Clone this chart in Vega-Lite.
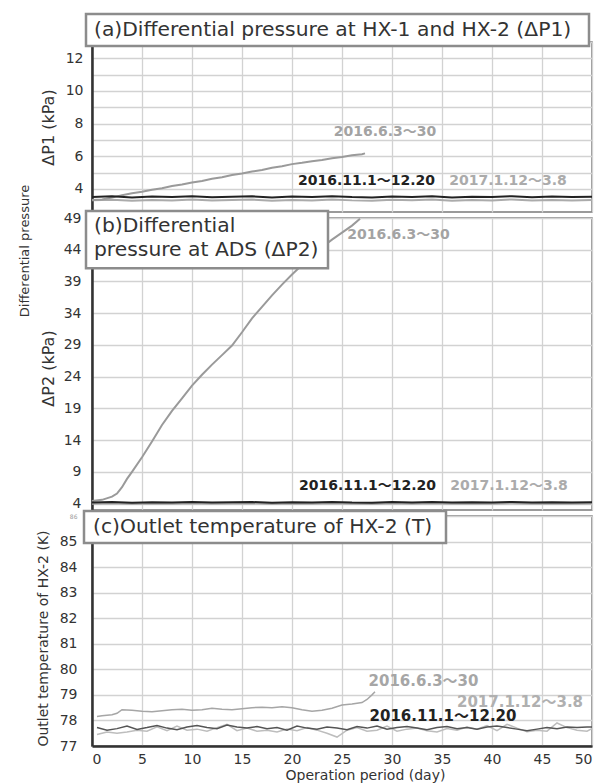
{
  "$schema": "https://vega.github.io/schema/vega-lite/v6.json",
  "padding": {"left": 18, "top": 12, "right": 7, "bottom": 1},
  "bounds": "flush",
  "spacing": 6,
  "resolve": {"scale": {"color": "independent"}},
  "config": {
    "font": "DejaVu Sans, Noto Sans CJK JP",
    "view": {"stroke": "#7a7a7a", "strokeWidth": 1.5},
    "axis": {
      "gridColor": "#d2d2d2",
      "gridWidth": 1.3,
      "labelColor": "#333333",
      "titleColor": "#333333",
      "labelFontSize": 14,
      "titleFontWeight": "normal",
      "domainColor": "#333333",
      "domainWidth": 2.5,
      "ticks": false
    },
    "text": {"font": "DejaVu Sans, Noto Sans CJK JP"}
  },
  "datasets": {
    "panelA": [
      {"period": "2017.1.12〜3.8", "day": 0, "value": 3.3},
      {"period": "2017.1.12〜3.8", "day": 2, "value": 3.34},
      {"period": "2017.1.12〜3.8", "day": 4, "value": 3.28},
      {"period": "2017.1.12〜3.8", "day": 6, "value": 3.33},
      {"period": "2017.1.12〜3.8", "day": 8, "value": 3.3},
      {"period": "2017.1.12〜3.8", "day": 10, "value": 3.36},
      {"period": "2017.1.12〜3.8", "day": 12, "value": 3.29},
      {"period": "2017.1.12〜3.8", "day": 14, "value": 3.32},
      {"period": "2017.1.12〜3.8", "day": 16, "value": 3.35},
      {"period": "2017.1.12〜3.8", "day": 18, "value": 3.27},
      {"period": "2017.1.12〜3.8", "day": 20, "value": 3.33},
      {"period": "2017.1.12〜3.8", "day": 22, "value": 3.3},
      {"period": "2017.1.12〜3.8", "day": 24, "value": 3.36},
      {"period": "2017.1.12〜3.8", "day": 26, "value": 3.3},
      {"period": "2017.1.12〜3.8", "day": 28, "value": 3.28},
      {"period": "2017.1.12〜3.8", "day": 30, "value": 3.34},
      {"period": "2017.1.12〜3.8", "day": 32, "value": 3.31},
      {"period": "2017.1.12〜3.8", "day": 34, "value": 3.35},
      {"period": "2017.1.12〜3.8", "day": 36, "value": 3.28},
      {"period": "2017.1.12〜3.8", "day": 38, "value": 3.32},
      {"period": "2017.1.12〜3.8", "day": 40, "value": 3.3},
      {"period": "2017.1.12〜3.8", "day": 42, "value": 3.36},
      {"period": "2017.1.12〜3.8", "day": 44, "value": 3.29},
      {"period": "2017.1.12〜3.8", "day": 46, "value": 3.33},
      {"period": "2017.1.12〜3.8", "day": 48, "value": 3.3},
      {"period": "2017.1.12〜3.8", "day": 50, "value": 3.32},
      {"period": "2016.6.3〜30", "day": 0, "value": 3.32},
      {"period": "2016.6.3〜30", "day": 1, "value": 3.36},
      {"period": "2016.6.3〜30", "day": 2, "value": 3.47},
      {"period": "2016.6.3〜30", "day": 3, "value": 3.62},
      {"period": "2016.6.3〜30", "day": 4, "value": 3.73},
      {"period": "2016.6.3〜30", "day": 5, "value": 3.83},
      {"period": "2016.6.3〜30", "day": 6, "value": 3.95},
      {"period": "2016.6.3〜30", "day": 7, "value": 4.04},
      {"period": "2016.6.3〜30", "day": 8, "value": 4.18},
      {"period": "2016.6.3〜30", "day": 9, "value": 4.27},
      {"period": "2016.6.3〜30", "day": 10, "value": 4.4},
      {"period": "2016.6.3〜30", "day": 11, "value": 4.49},
      {"period": "2016.6.3〜30", "day": 12, "value": 4.62},
      {"period": "2016.6.3〜30", "day": 13, "value": 4.72},
      {"period": "2016.6.3〜30", "day": 14, "value": 4.85},
      {"period": "2016.6.3〜30", "day": 15, "value": 4.94},
      {"period": "2016.6.3〜30", "day": 16, "value": 5.07},
      {"period": "2016.6.3〜30", "day": 17, "value": 5.16},
      {"period": "2016.6.3〜30", "day": 18, "value": 5.3},
      {"period": "2016.6.3〜30", "day": 19, "value": 5.39},
      {"period": "2016.6.3〜30", "day": 20, "value": 5.52},
      {"period": "2016.6.3〜30", "day": 21, "value": 5.6},
      {"period": "2016.6.3〜30", "day": 22, "value": 5.7},
      {"period": "2016.6.3〜30", "day": 23, "value": 5.77},
      {"period": "2016.6.3〜30", "day": 24, "value": 5.88},
      {"period": "2016.6.3〜30", "day": 25, "value": 5.95},
      {"period": "2016.6.3〜30", "day": 26, "value": 6.06},
      {"period": "2016.6.3〜30", "day": 27, "value": 6.13},
      {"period": "2016.6.3〜30", "day": 27.3, "value": 6.18},
      {"period": "2016.11.1〜12.20", "day": 0, "value": 3.5},
      {"period": "2016.11.1〜12.20", "day": 2, "value": 3.55},
      {"period": "2016.11.1〜12.20", "day": 4, "value": 3.48},
      {"period": "2016.11.1〜12.20", "day": 6, "value": 3.53},
      {"period": "2016.11.1〜12.20", "day": 8, "value": 3.5},
      {"period": "2016.11.1〜12.20", "day": 10, "value": 3.56},
      {"period": "2016.11.1〜12.20", "day": 12, "value": 3.49},
      {"period": "2016.11.1〜12.20", "day": 14, "value": 3.52},
      {"period": "2016.11.1〜12.20", "day": 16, "value": 3.55},
      {"period": "2016.11.1〜12.20", "day": 18, "value": 3.47},
      {"period": "2016.11.1〜12.20", "day": 20, "value": 3.53},
      {"period": "2016.11.1〜12.20", "day": 22, "value": 3.5},
      {"period": "2016.11.1〜12.20", "day": 24, "value": 3.56},
      {"period": "2016.11.1〜12.20", "day": 26, "value": 3.5},
      {"period": "2016.11.1〜12.20", "day": 28, "value": 3.48},
      {"period": "2016.11.1〜12.20", "day": 30, "value": 3.54},
      {"period": "2016.11.1〜12.20", "day": 32, "value": 3.51},
      {"period": "2016.11.1〜12.20", "day": 34, "value": 3.55},
      {"period": "2016.11.1〜12.20", "day": 36, "value": 3.48},
      {"period": "2016.11.1〜12.20", "day": 38, "value": 3.52},
      {"period": "2016.11.1〜12.20", "day": 40, "value": 3.5},
      {"period": "2016.11.1〜12.20", "day": 42, "value": 3.56},
      {"period": "2016.11.1〜12.20", "day": 44, "value": 3.49},
      {"period": "2016.11.1〜12.20", "day": 46, "value": 3.53},
      {"period": "2016.11.1〜12.20", "day": 48, "value": 3.5},
      {"period": "2016.11.1〜12.20", "day": 50, "value": 3.52}
    ],
    "panelB": [
      {"period": "2017.1.12〜3.8", "day": 0, "value": 4.0},
      {"period": "2017.1.12〜3.8", "day": 2, "value": 4.06},
      {"period": "2017.1.12〜3.8", "day": 4, "value": 3.96},
      {"period": "2017.1.12〜3.8", "day": 6, "value": 4.04},
      {"period": "2017.1.12〜3.8", "day": 8, "value": 3.98},
      {"period": "2017.1.12〜3.8", "day": 10, "value": 4.07},
      {"period": "2017.1.12〜3.8", "day": 12, "value": 3.97},
      {"period": "2017.1.12〜3.8", "day": 14, "value": 4.02},
      {"period": "2017.1.12〜3.8", "day": 16, "value": 4.06},
      {"period": "2017.1.12〜3.8", "day": 18, "value": 3.95},
      {"period": "2017.1.12〜3.8", "day": 20, "value": 4.03},
      {"period": "2017.1.12〜3.8", "day": 22, "value": 3.99},
      {"period": "2017.1.12〜3.8", "day": 24, "value": 4.07},
      {"period": "2017.1.12〜3.8", "day": 26, "value": 3.98},
      {"period": "2017.1.12〜3.8", "day": 28, "value": 3.96},
      {"period": "2017.1.12〜3.8", "day": 30, "value": 4.05},
      {"period": "2017.1.12〜3.8", "day": 32, "value": 4.0},
      {"period": "2017.1.12〜3.8", "day": 34, "value": 4.06},
      {"period": "2017.1.12〜3.8", "day": 36, "value": 3.97},
      {"period": "2017.1.12〜3.8", "day": 38, "value": 4.02},
      {"period": "2017.1.12〜3.8", "day": 40, "value": 3.99},
      {"period": "2017.1.12〜3.8", "day": 42, "value": 4.07},
      {"period": "2017.1.12〜3.8", "day": 44, "value": 3.97},
      {"period": "2017.1.12〜3.8", "day": 46, "value": 4.03},
      {"period": "2017.1.12〜3.8", "day": 48, "value": 3.99},
      {"period": "2017.1.12〜3.8", "day": 50, "value": 4.02},
      {"period": "2016.6.3〜30", "day": 0, "value": 4.4},
      {"period": "2016.6.3〜30", "day": 1, "value": 4.6},
      {"period": "2016.6.3〜30", "day": 2, "value": 5.1},
      {"period": "2016.6.3〜30", "day": 2.5, "value": 5.6},
      {"period": "2016.6.3〜30", "day": 3, "value": 6.6},
      {"period": "2016.6.3〜30", "day": 3.5, "value": 7.9},
      {"period": "2016.6.3〜30", "day": 4, "value": 9.0},
      {"period": "2016.6.3〜30", "day": 5, "value": 11.3},
      {"period": "2016.6.3〜30", "day": 6, "value": 13.8},
      {"period": "2016.6.3〜30", "day": 7, "value": 16.4},
      {"period": "2016.6.3〜30", "day": 8, "value": 18.6},
      {"period": "2016.6.3〜30", "day": 9, "value": 20.6},
      {"period": "2016.6.3〜30", "day": 10, "value": 22.6},
      {"period": "2016.6.3〜30", "day": 11, "value": 24.3},
      {"period": "2016.6.3〜30", "day": 12, "value": 25.9},
      {"period": "2016.6.3〜30", "day": 13, "value": 27.4},
      {"period": "2016.6.3〜30", "day": 14, "value": 28.9},
      {"period": "2016.6.3〜30", "day": 15, "value": 31.0},
      {"period": "2016.6.3〜30", "day": 16, "value": 33.2},
      {"period": "2016.6.3〜30", "day": 17, "value": 35.0},
      {"period": "2016.6.3〜30", "day": 18, "value": 36.8},
      {"period": "2016.6.3〜30", "day": 19, "value": 38.5},
      {"period": "2016.6.3〜30", "day": 20, "value": 40.1},
      {"period": "2016.6.3〜30", "day": 21, "value": 41.6},
      {"period": "2016.6.3〜30", "day": 22, "value": 43.0},
      {"period": "2016.6.3〜30", "day": 23, "value": 44.4},
      {"period": "2016.6.3〜30", "day": 24, "value": 45.6},
      {"period": "2016.6.3〜30", "day": 25, "value": 46.7},
      {"period": "2016.6.3〜30", "day": 26, "value": 47.8},
      {"period": "2016.6.3〜30", "day": 26.8, "value": 48.9},
      {"period": "2016.11.1〜12.20", "day": 0, "value": 4.2},
      {"period": "2016.11.1〜12.20", "day": 2, "value": 4.26},
      {"period": "2016.11.1〜12.20", "day": 4, "value": 4.16},
      {"period": "2016.11.1〜12.20", "day": 6, "value": 4.24},
      {"period": "2016.11.1〜12.20", "day": 8, "value": 4.18},
      {"period": "2016.11.1〜12.20", "day": 10, "value": 4.27},
      {"period": "2016.11.1〜12.20", "day": 12, "value": 4.17},
      {"period": "2016.11.1〜12.20", "day": 14, "value": 4.22},
      {"period": "2016.11.1〜12.20", "day": 16, "value": 4.26},
      {"period": "2016.11.1〜12.20", "day": 18, "value": 4.15},
      {"period": "2016.11.1〜12.20", "day": 20, "value": 4.23},
      {"period": "2016.11.1〜12.20", "day": 22, "value": 4.19},
      {"period": "2016.11.1〜12.20", "day": 24, "value": 4.27},
      {"period": "2016.11.1〜12.20", "day": 26, "value": 4.18},
      {"period": "2016.11.1〜12.20", "day": 28, "value": 4.16},
      {"period": "2016.11.1〜12.20", "day": 30, "value": 4.25},
      {"period": "2016.11.1〜12.20", "day": 32, "value": 4.2},
      {"period": "2016.11.1〜12.20", "day": 34, "value": 4.26},
      {"period": "2016.11.1〜12.20", "day": 36, "value": 4.17},
      {"period": "2016.11.1〜12.20", "day": 38, "value": 4.22},
      {"period": "2016.11.1〜12.20", "day": 40, "value": 4.19},
      {"period": "2016.11.1〜12.20", "day": 42, "value": 4.27},
      {"period": "2016.11.1〜12.20", "day": 44, "value": 4.17},
      {"period": "2016.11.1〜12.20", "day": 46, "value": 4.23},
      {"period": "2016.11.1〜12.20", "day": 48, "value": 4.19},
      {"period": "2016.11.1〜12.20", "day": 50, "value": 4.22}
    ],
    "panelC": [
      {"period": "2017.1.12〜3.8", "day": 0.5, "value": 77.45},
      {"period": "2017.1.12〜3.8", "day": 1.5, "value": 77.55},
      {"period": "2017.1.12〜3.8", "day": 2.5, "value": 77.5},
      {"period": "2017.1.12〜3.8", "day": 3.5, "value": 77.55},
      {"period": "2017.1.12〜3.8", "day": 4.5, "value": 77.62},
      {"period": "2017.1.12〜3.8", "day": 5.5, "value": 77.58},
      {"period": "2017.1.12〜3.8", "day": 6.5, "value": 77.75},
      {"period": "2017.1.12〜3.8", "day": 7.5, "value": 77.6},
      {"period": "2017.1.12〜3.8", "day": 8.5, "value": 77.78},
      {"period": "2017.1.12〜3.8", "day": 9.5, "value": 77.62},
      {"period": "2017.1.12〜3.8", "day": 10.5, "value": 77.66},
      {"period": "2017.1.12〜3.8", "day": 11.5, "value": 77.58},
      {"period": "2017.1.12〜3.8", "day": 12.5, "value": 77.72},
      {"period": "2017.1.12〜3.8", "day": 13.5, "value": 77.85},
      {"period": "2017.1.12〜3.8", "day": 14.5, "value": 77.6},
      {"period": "2017.1.12〜3.8", "day": 15.5, "value": 77.7},
      {"period": "2017.1.12〜3.8", "day": 16.5, "value": 77.58},
      {"period": "2017.1.12〜3.8", "day": 17.5, "value": 77.62},
      {"period": "2017.1.12〜3.8", "day": 18.5, "value": 77.55},
      {"period": "2017.1.12〜3.8", "day": 19.5, "value": 77.66},
      {"period": "2017.1.12〜3.8", "day": 20.5, "value": 77.6},
      {"period": "2017.1.12〜3.8", "day": 21.5, "value": 77.72},
      {"period": "2017.1.12〜3.8", "day": 22.5, "value": 77.62},
      {"period": "2017.1.12〜3.8", "day": 23.5, "value": 77.5},
      {"period": "2017.1.12〜3.8", "day": 24.5, "value": 77.35},
      {"period": "2017.1.12〜3.8", "day": 25.5, "value": 77.62},
      {"period": "2017.1.12〜3.8", "day": 26.5, "value": 77.72},
      {"period": "2017.1.12〜3.8", "day": 27.5, "value": 77.58},
      {"period": "2017.1.12〜3.8", "day": 28.5, "value": 77.62},
      {"period": "2017.1.12〜3.8", "day": 29.5, "value": 77.78},
      {"period": "2017.1.12〜3.8", "day": 30.5, "value": 77.58},
      {"period": "2017.1.12〜3.8", "day": 31.5, "value": 77.66},
      {"period": "2017.1.12〜3.8", "day": 32.5, "value": 77.7},
      {"period": "2017.1.12〜3.8", "day": 33.5, "value": 77.6},
      {"period": "2017.1.12〜3.8", "day": 34.5, "value": 77.55},
      {"period": "2017.1.12〜3.8", "day": 35.5, "value": 77.68},
      {"period": "2017.1.12〜3.8", "day": 36.5, "value": 77.62},
      {"period": "2017.1.12〜3.8", "day": 37.5, "value": 77.74},
      {"period": "2017.1.12〜3.8", "day": 38.5, "value": 77.66},
      {"period": "2017.1.12〜3.8", "day": 39.5, "value": 77.8},
      {"period": "2017.1.12〜3.8", "day": 40.5, "value": 77.6},
      {"period": "2017.1.12〜3.8", "day": 41.5, "value": 77.85},
      {"period": "2017.1.12〜3.8", "day": 42.5, "value": 77.7},
      {"period": "2017.1.12〜3.8", "day": 43.5, "value": 77.56},
      {"period": "2017.1.12〜3.8", "day": 44.5, "value": 77.62},
      {"period": "2017.1.12〜3.8", "day": 45.5, "value": 77.58},
      {"period": "2017.1.12〜3.8", "day": 46.5, "value": 77.9},
      {"period": "2017.1.12〜3.8", "day": 47.5, "value": 77.72},
      {"period": "2017.1.12〜3.8", "day": 48.5, "value": 77.62},
      {"period": "2017.1.12〜3.8", "day": 49.5, "value": 77.58},
      {"period": "2017.1.12〜3.8", "day": 50, "value": 77.68},
      {"period": "2016.6.3〜30", "day": 0.5, "value": 78.15},
      {"period": "2016.6.3〜30", "day": 1, "value": 78.18},
      {"period": "2016.6.3〜30", "day": 2, "value": 78.22},
      {"period": "2016.6.3〜30", "day": 2.5, "value": 78.28},
      {"period": "2016.6.3〜30", "day": 3, "value": 78.42},
      {"period": "2016.6.3〜30", "day": 4, "value": 78.4},
      {"period": "2016.6.3〜30", "day": 5, "value": 78.36},
      {"period": "2016.6.3〜30", "day": 6, "value": 78.34},
      {"period": "2016.6.3〜30", "day": 7, "value": 78.38},
      {"period": "2016.6.3〜30", "day": 8, "value": 78.42},
      {"period": "2016.6.3〜30", "day": 9, "value": 78.44},
      {"period": "2016.6.3〜30", "day": 10, "value": 78.4},
      {"period": "2016.6.3〜30", "day": 11, "value": 78.42},
      {"period": "2016.6.3〜30", "day": 12, "value": 78.48},
      {"period": "2016.6.3〜30", "day": 13, "value": 78.44},
      {"period": "2016.6.3〜30", "day": 14, "value": 78.42},
      {"period": "2016.6.3〜30", "day": 15, "value": 78.46},
      {"period": "2016.6.3〜30", "day": 16, "value": 78.5},
      {"period": "2016.6.3〜30", "day": 17, "value": 78.52},
      {"period": "2016.6.3〜30", "day": 18, "value": 78.5},
      {"period": "2016.6.3〜30", "day": 19, "value": 78.54},
      {"period": "2016.6.3〜30", "day": 20, "value": 78.5},
      {"period": "2016.6.3〜30", "day": 21, "value": 78.42},
      {"period": "2016.6.3〜30", "day": 22, "value": 78.36},
      {"period": "2016.6.3〜30", "day": 23, "value": 78.4},
      {"period": "2016.6.3〜30", "day": 24, "value": 78.48},
      {"period": "2016.6.3〜30", "day": 25, "value": 78.6},
      {"period": "2016.6.3〜30", "day": 26, "value": 78.64},
      {"period": "2016.6.3〜30", "day": 27, "value": 78.7},
      {"period": "2016.6.3〜30", "day": 27.5, "value": 78.82},
      {"period": "2016.6.3〜30", "day": 28, "value": 79.0},
      {"period": "2016.6.3〜30", "day": 28.3, "value": 79.12},
      {"period": "2016.11.1〜12.20", "day": 0.5, "value": 77.72},
      {"period": "2016.11.1〜12.20", "day": 1.5, "value": 77.62},
      {"period": "2016.11.1〜12.20", "day": 2.5, "value": 77.68},
      {"period": "2016.11.1〜12.20", "day": 3.5, "value": 77.78},
      {"period": "2016.11.1〜12.20", "day": 4.5, "value": 77.65},
      {"period": "2016.11.1〜12.20", "day": 5.5, "value": 77.72},
      {"period": "2016.11.1〜12.20", "day": 6.5, "value": 77.8},
      {"period": "2016.11.1〜12.20", "day": 7.5, "value": 77.7},
      {"period": "2016.11.1〜12.20", "day": 8.5, "value": 77.64},
      {"period": "2016.11.1〜12.20", "day": 9.5, "value": 77.74},
      {"period": "2016.11.1〜12.20", "day": 10.5, "value": 77.8},
      {"period": "2016.11.1〜12.20", "day": 11.5, "value": 77.72},
      {"period": "2016.11.1〜12.20", "day": 12.5, "value": 77.68},
      {"period": "2016.11.1〜12.20", "day": 13.5, "value": 77.82},
      {"period": "2016.11.1〜12.20", "day": 14.5, "value": 77.74},
      {"period": "2016.11.1〜12.20", "day": 15.5, "value": 77.7},
      {"period": "2016.11.1〜12.20", "day": 16.5, "value": 77.76},
      {"period": "2016.11.1〜12.20", "day": 17.5, "value": 77.68},
      {"period": "2016.11.1〜12.20", "day": 18.5, "value": 77.72},
      {"period": "2016.11.1〜12.20", "day": 19.5, "value": 77.62},
      {"period": "2016.11.1〜12.20", "day": 20.5, "value": 77.78},
      {"period": "2016.11.1〜12.20", "day": 21.5, "value": 77.7},
      {"period": "2016.11.1〜12.20", "day": 22.5, "value": 77.66},
      {"period": "2016.11.1〜12.20", "day": 23.5, "value": 77.74},
      {"period": "2016.11.1〜12.20", "day": 24.5, "value": 77.7},
      {"period": "2016.11.1〜12.20", "day": 25.5, "value": 77.64},
      {"period": "2016.11.1〜12.20", "day": 26.5, "value": 77.76},
      {"period": "2016.11.1〜12.20", "day": 27.5, "value": 77.7},
      {"period": "2016.11.1〜12.20", "day": 28.5, "value": 77.78},
      {"period": "2016.11.1〜12.20", "day": 29.5, "value": 77.66},
      {"period": "2016.11.1〜12.20", "day": 30.5, "value": 77.72},
      {"period": "2016.11.1〜12.20", "day": 31.5, "value": 77.76},
      {"period": "2016.11.1〜12.20", "day": 32.5, "value": 77.7},
      {"period": "2016.11.1〜12.20", "day": 33.5, "value": 77.64},
      {"period": "2016.11.1〜12.20", "day": 34.5, "value": 77.72},
      {"period": "2016.11.1〜12.20", "day": 35.5, "value": 77.76},
      {"period": "2016.11.1〜12.20", "day": 36.5, "value": 77.68},
      {"period": "2016.11.1〜12.20", "day": 37.5, "value": 77.72},
      {"period": "2016.11.1〜12.20", "day": 38.5, "value": 77.66},
      {"period": "2016.11.1〜12.20", "day": 39.5, "value": 77.74},
      {"period": "2016.11.1〜12.20", "day": 40.5, "value": 77.78},
      {"period": "2016.11.1〜12.20", "day": 41.5, "value": 77.72},
      {"period": "2016.11.1〜12.20", "day": 42.5, "value": 77.66},
      {"period": "2016.11.1〜12.20", "day": 43.5, "value": 77.6},
      {"period": "2016.11.1〜12.20", "day": 44.5, "value": 77.66},
      {"period": "2016.11.1〜12.20", "day": 45.5, "value": 77.72},
      {"period": "2016.11.1〜12.20", "day": 46.5, "value": 77.68},
      {"period": "2016.11.1〜12.20", "day": 47.5, "value": 77.74},
      {"period": "2016.11.1〜12.20", "day": 48.5, "value": 77.72},
      {"period": "2016.11.1〜12.20", "day": 49.5, "value": 77.74},
      {"period": "2016.11.1〜12.20", "day": 50, "value": 77.74}
    ]
  },
  "vconcat": [
    {
      "width": 500,
      "height": 170,
      "data": {"name": "panelA"},
      "layer": [
        {
          "mark": {"type": "line", "strokeWidth": 2},
          "encoding": {
            "x": {"field": "day", "type": "quantitative", "scale": {"domain": [0, 50], "nice": false},
                  "axis": {"values": [0, 5, 10, 15, 20, 25, 30, 35, 40, 45, 50], "tickCount": 20, "labels": false, "domain": false, "title": null}},
            "y": {"field": "value", "type": "quantitative", "scale": {"domain": [2.588, 13], "nice": false, "zero": false},
                  "axis": {"values": [4, 5, 6, 7, 8, 9, 10, 11, 12, 13], "tickCount": 20, "format": "d",
                           "labelExpr": "datum.value % 2 == 0 ? datum.label : ''",
                           "labelOverlap": false, "labelPadding": 9, "title": "ΔP1  (kPa)", "titleFontSize": 16, "titleAngle": 270,
                           "titleAlign": "center", "titleBaseline": "middle", "titleX": -44, "titleY": 85}},
            "color": {"field": "period", "type": "nominal", "legend": null,
                      "scale": {"domain": ["2016.6.3〜30", "2016.11.1〜12.20", "2017.1.12〜3.8"], "range": ["#9a9a9a", "#222222", "#ababab"]}}
          }
        },
        {
          "data": {"values": [{}]},
          "mark": {"type": "rect", "fill": "white", "stroke": "#8c8c8c", "strokeWidth": 2.5},
          "encoding": {"x": {"datum": -0.6}, "x2": {"datum": 49.7}, "y": {"datum": 14.71}, "y2": {"datum": 12.76}}
        },
        {
          "data": {"values": [{}]},
          "mark": {"type": "text", "text": "(a)Differential pressure at HX-1 and HX-2 (ΔP1)", "align": "left", "baseline": "middle", "fontSize": 20.3, "color": "#333333"},
          "encoding": {"x": {"datum": 0.2}, "y": {"datum": 13.73}}
        },
        {
          "data": {"values": [{}]},
          "mark": {"type": "text", "text": "2016.6.3〜30", "fontWeight": "bold", "fontSize": 14, "color": "#a3a3a3"},
          "encoding": {"x": {"datum": 29.3}, "y": {"datum": 7.49}}
        },
        {
          "data": {"values": [{}]},
          "mark": {"type": "text", "text": "2016.11.1〜12.20", "fontWeight": "bold", "fontSize": 14, "color": "#222222"},
          "encoding": {"x": {"datum": 27.45}, "y": {"datum": 4.49}}
        },
        {
          "data": {"values": [{}]},
          "mark": {"type": "text", "text": "2017.1.12〜3.8", "fontWeight": "bold", "fontSize": 14, "color": "#ababab"},
          "encoding": {"x": {"datum": 41.6}, "y": {"datum": 4.49}}
        }
      ]
    },
    {
      "width": 500,
      "height": 292,
      "data": {"name": "panelB"},
      "layer": [
        {
          "mark": {"type": "line", "strokeWidth": 2},
          "encoding": {
            "x": {"field": "day", "type": "quantitative", "scale": {"domain": [0, 50], "nice": false},
                  "axis": {"values": [0, 5, 10, 15, 20, 25, 30, 35, 40, 45, 50], "tickCount": 20, "labels": false, "domain": false, "title": null}},
            "y": {"field": "value", "type": "quantitative", "scale": {"domain": [3, 49], "nice": false, "zero": false},
                  "axis": {"values": [4, 9, 14, 19, 24, 29, 34, 39, 44, 49], "tickCount": 20, "format": "d", "labelOverlap": false, "labelPadding": 11,
                           "title": "ΔP2  (kPa)", "titleFontSize": 16, "titleAngle": 270,
                           "titleAlign": "center", "titleBaseline": "middle", "titleX": -44, "titleY": 150}},
            "color": {"field": "period", "type": "nominal", "legend": null,
                      "scale": {"domain": ["2016.6.3〜30", "2016.11.1〜12.20", "2017.1.12〜3.8"], "range": ["#9a9a9a", "#222222", "#ababab"]}}
          }
        },
        {
          "data": {"values": [{}]},
          "mark": {"type": "rect", "fill": "white", "stroke": "#8c8c8c", "strokeWidth": 2.5},
          "encoding": {"x": {"datum": -0.6}, "x2": {"datum": 23.6}, "y": {"datum": 50.1}, "y2": {"datum": 41.1}}
        },
        {
          "data": {"values": [{}]},
          "mark": {"type": "text", "text": "(b)Differential", "align": "left", "baseline": "middle", "fontSize": 20.3, "color": "#333333"},
          "encoding": {"x": {"datum": 0.2}, "y": {"datum": 47.74}}
        },
        {
          "data": {"values": [{}]},
          "mark": {"type": "text", "text": "pressure at ADS (ΔP2)", "align": "left", "baseline": "middle", "fontSize": 20.3, "color": "#333333"},
          "encoding": {"x": {"datum": 0.2}, "y": {"datum": 43.96}}
        },
        {
          "data": {"values": [{}]},
          "mark": {"type": "text", "text": "Differential pressure", "angle": 270, "align": "center", "baseline": "middle", "fontSize": 13, "color": "#333333"},
          "encoding": {"x": {"datum": -6.7}, "y": {"datum": 43.8}}
        },
        {
          "data": {"values": [{}]},
          "mark": {"type": "text", "text": "2016.6.3〜30", "fontWeight": "bold", "fontSize": 14, "color": "#a3a3a3"},
          "encoding": {"x": {"datum": 30.65}, "y": {"datum": 46.3}}
        },
        {
          "data": {"values": [{}]},
          "mark": {"type": "text", "text": "2016.11.1〜12.20", "fontWeight": "bold", "fontSize": 14, "color": "#222222"},
          "encoding": {"x": {"datum": 27.55}, "y": {"datum": 6.79}}
        },
        {
          "data": {"values": [{}]},
          "mark": {"type": "text", "text": "2017.1.12〜3.8", "fontWeight": "bold", "fontSize": 14, "color": "#ababab"},
          "encoding": {"x": {"datum": 41.7}, "y": {"datum": 6.79}}
        }
      ]
    },
    {
      "width": 500,
      "height": 230,
      "data": {"name": "panelC"},
      "layer": [
        {
          "mark": {"type": "line", "strokeWidth": 1.5},
          "encoding": {
            "x": {"field": "day", "type": "quantitative", "scale": {"domain": [0, 50], "nice": false},
                  "axis": {"values": [0, 5, 10, 15, 20, 25, 30, 35, 40, 45, 50], "tickCount": 20, "format": "d", "labelOverlap": false, "labelFlush": true, "labelPadding": 6,
                           "title": "Operation period (day)", "titleFontSize": 14, "titleAlign": "center", "titleBaseline": "middle",
                           "titleX": 273, "titleY": 29}},
            "y": {"field": "value", "type": "quantitative", "scale": {"domain": [77, 86], "nice": false, "zero": false},
                  "axis": {"values": [77, 78, 79, 80, 81, 82, 83, 84, 85, 86], "tickCount": 20, "format": "d", "labelOverlap": false, "labelPadding": 15,
                           "labelFontSize": {"expr": "datum.value == 86 ? 6 : 14"},
                           "labelColor": {"expr": "datum.value == 86 ? '#9a9a9a' : '#333333'"},
                           "title": "Outlet temperature of HX-2 (K)", "titleFontSize": 14, "titleAngle": 270,
                           "titleAlign": "center", "titleBaseline": "middle", "titleX": -49, "titleY": 122}},
            "color": {"field": "period", "type": "nominal", "legend": null,
                      "scale": {"domain": ["2016.6.3〜30", "2016.11.1〜12.20", "2017.1.12〜3.8"], "range": ["#a6a6a6", "#555555", "#bdbdbd"]}}
          }
        },
        {
          "data": {"values": [{}]},
          "mark": {"type": "rect", "fill": "white", "stroke": "#8c8c8c", "strokeWidth": 2.5},
          "encoding": {"x": {"datum": -0.8}, "x2": {"datum": 35.4}, "y": {"datum": 86.2}, "y2": {"datum": 84.94}}
        },
        {
          "data": {"values": [{}]},
          "mark": {"type": "text", "text": "(c)Outlet temperature of HX-2 (T)", "align": "left", "baseline": "middle", "fontSize": 20.3, "color": "#333333"},
          "encoding": {"x": {"datum": 0.1}, "y": {"datum": 85.57}}
        },
        {
          "data": {"values": [{}]},
          "mark": {"type": "text", "text": "2016.6.3〜30", "fontWeight": "bold", "fontSize": 15, "color": "#a6a6a6"},
          "encoding": {"x": {"datum": 33.15}, "y": {"datum": 79.54}}
        },
        {
          "data": {"values": [{}]},
          "mark": {"type": "text", "text": "2017.1.12〜3.8", "fontWeight": "bold", "fontSize": 15, "color": "#b0b0b0"},
          "encoding": {"x": {"datum": 42.8}, "y": {"datum": 78.72}}
        },
        {
          "data": {"values": [{}]},
          "mark": {"type": "text", "text": "2016.11.1〜12.20", "fontWeight": "bold", "fontSize": 15, "color": "#222222"},
          "encoding": {"x": {"datum": 35.1}, "y": {"datum": 78.18}}
        }
      ]
    }
  ]
}
